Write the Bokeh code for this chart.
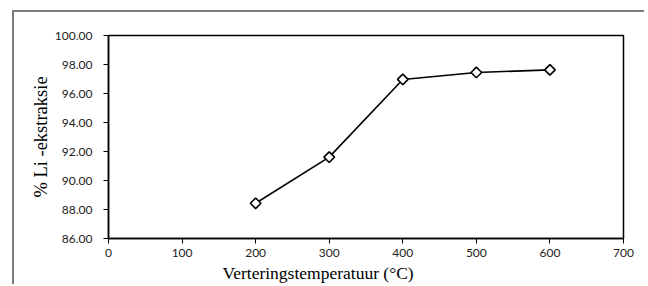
import math
from bokeh.plotting import figure
from bokeh.models import Title, NumeralTickFormatter, FixedTicker, Range1d
from bokeh.embed import file_html
from bokeh.resources import INLINE

temperature = [200, 300, 400, 500, 600]
li_extraction = [88.43, 91.61, 96.97, 97.45, 97.63]
x_ticks = [0, 100, 200, 300, 400, 500, 600, 700]
y_ticks = [86, 88, 90, 92, 94, 96, 98, 100]

p = figure(width=632, height=274, output_backend="svg", toolbar_location=None,
           x_range=Range1d(0, 700), y_range=Range1d(86, 100),
           min_border_left=94, min_border_right=23, min_border_top=23, min_border_bottom=48)
p.margin = (12, 0, 0, 14)
p.styles = {"box-shadow": "-2px -2px 0px 0px #7a7a7a"}

p.line(temperature, li_extraction, line_color="black", line_width=1.6)
p.scatter(temperature, li_extraction, marker="square", angle=math.pi / 4, size=7.5,
          fill_color="white", line_color="black", line_width=1.6)

p.xgrid.visible = False
p.ygrid.visible = False
p.outline_line_color = "black"
p.outline_line_width = 1.5
p.outline_line_alpha = 1

for ax in (p.xaxis[0], p.yaxis[0]):
    ax.axis_line_color = "black"
    ax.axis_line_width = 1.5
    ax.major_tick_line_color = "black"
    ax.major_tick_line_width = 1
    ax.major_tick_in = 0
    ax.major_tick_out = 5
    ax.minor_tick_line_color = None
    ax.major_label_text_font = "Lato"
    ax.major_label_text_font_size = "12px"
    ax.major_label_text_color = "#222222"

p.xaxis.ticker = FixedTicker(ticks=x_ticks)
p.yaxis.ticker = FixedTicker(ticks=y_ticks)
p.yaxis.formatter = NumeralTickFormatter(format="0.00")
p.yaxis.major_label_standoff = 11
p.xaxis.major_label_standoff = 5

p.yaxis.axis_label = "% Li -ekstraksie"
p.yaxis.axis_label_text_font = "Liberation Serif"
p.yaxis.axis_label_text_font_size = "18.5px"
p.yaxis.axis_label_text_font_style = "normal"
p.yaxis.axis_label_text_color = "black"
p.yaxis.axis_label_standoff = 1

xt = Title(text="Verteringstemperatuur (°C)", align="left", offset=114, standoff=2,
           text_font="Liberation Serif", text_font_size="17.5px",
           text_font_style="normal", text_color="black")
p.add_layout(xt, "below")

open("out.html", "w").write(file_html(p, INLINE))
